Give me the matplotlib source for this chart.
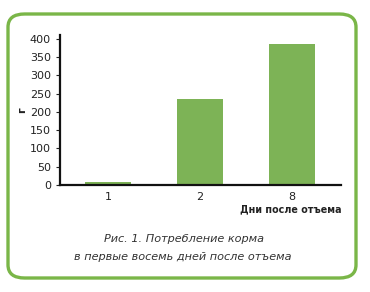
import matplotlib
matplotlib.use("Agg")
import matplotlib.pyplot as plt
from matplotlib.patches import FancyBboxPatch

categories = ["1", "2", "8"]
values = [9, 235, 386]
yticks = [0, 50, 100, 150, 200, 250, 300, 350, 400]

plt.rcParams['font.family'] = ['DejaVu Sans']

fig = plt.figure(figsize=(3.7, 2.92), dpi=100)
W, H = 370, 292

# rounded green frame
frame = FancyBboxPatch((8/W, 14/H), (356-8)/W, (278-14)/H,
                       boxstyle="round,pad=0,rounding_size=0.045",
                       transform=fig.transFigure, fill=False,
                       edgecolor="#7ab648", linewidth=2.4, zorder=0)
fig.patches.append(frame)

ax = fig.add_axes([60/W, 1-185/H, (341-60)/W, (185-35)/H])
x = range(len(categories))
ax.bar(x, values, width=0.5, color="#7db356", zorder=2)
ax.set_xlim(-0.52, 2.53)
ax.set_ylim(0, 410)
ax.set_yticks(yticks)
ax.set_xticks(list(x))
ax.set_xticklabels(categories)
for s in ["top", "right"]:
    ax.spines[s].set_visible(False)
for s in ["left", "bottom"]:
    ax.spines[s].set_linewidth(1.6)
    ax.spines[s].set_color("#111111")
ax.tick_params(axis="both", labelsize=8, colors="#222222", length=3, width=0.8)
ax.tick_params(axis="x", length=0, pad=5)

fig.text(22/W, 1-110/H, "г", rotation=90, fontsize=8, fontweight="bold",
         ha="center", va="center", color="#222222")
fig.text(342/W, 1-209/H, "Дни после отъема", fontsize=6.9, fontweight="bold",
         ha="right", va="center", color="#222222")
fig.text(184/W, 1-239/H, "Рис. 1. Потребление корма", fontsize=8.1, style="italic",
         ha="center", va="center", color="#333333")
fig.text(183/W, 1-257/H, "в первые восемь дней после отъема", fontsize=8.1, style="italic",
         ha="center", va="center", color="#333333")

fig.savefig("out.png", dpi=100)
